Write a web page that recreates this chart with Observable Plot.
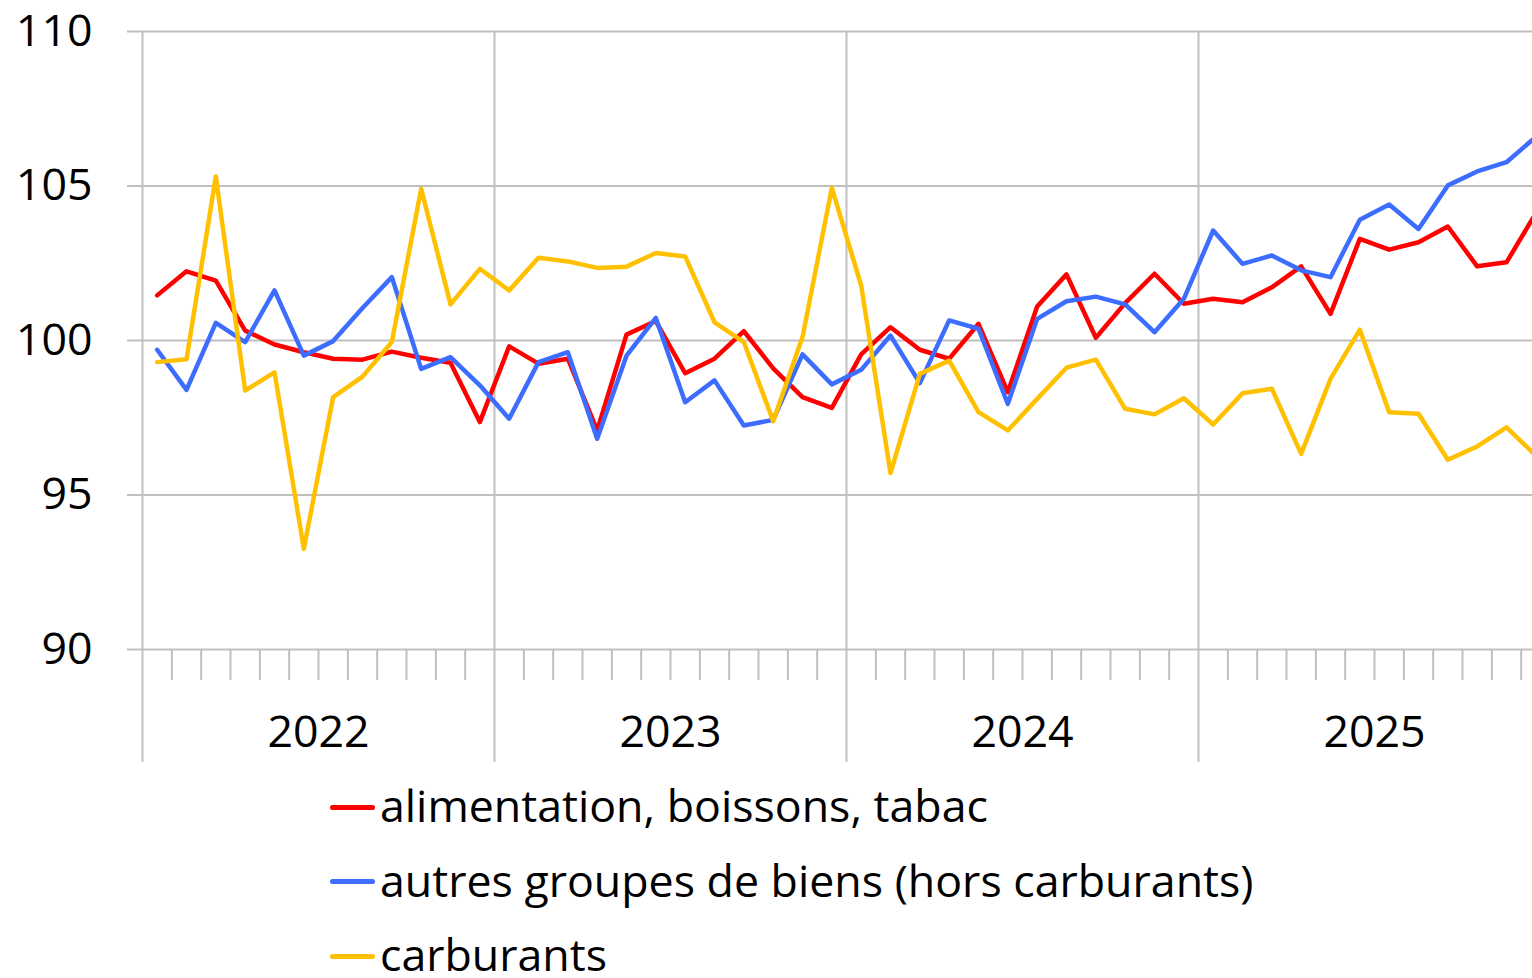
<!DOCTYPE html>
<html>
<head>
<meta charset="utf-8">
<script src="https://cdn.jsdelivr.net/npm/d3@7"></script>
<script src="https://cdn.jsdelivr.net/npm/@observablehq/plot@0.6"></script>
<style>
  html, body { margin: 0; padding: 0; background: #fff; overflow: hidden; width: 1532px; height: 978px; }
  #chart { width: 1532px; overflow: hidden; }
  #chart svg { display: block; max-width: none !important; width: 1560px !important; height: 765px !important; }
  #legend { font-family: "Open Sans", sans-serif; font-size: 44.7px; color: #000; padding-top: 3.4px; margin-left: 330px; white-space: nowrap; }
  #legend .row { height: 74.5px; line-height: 74.5px; }
  #legend .sw { display: inline-block; width: 45px; height: 5px; border-radius: 2.5px; vertical-align: 12.5px; margin-right: 5px; }
</style>
</head>
<body>
<div id="chart"></div>
<div id="legend"></div>
<script>
// Monthly index (base 100), January 2022 – December 2025
const years = ["2022", "2023", "2024", "2025"];
const seriesNames = ["alimentation, boissons, tabac", "autres groupes de biens (hors carburants)", "carburants"];
const seriesColors = ["#FF0000", "#3D6DFF", "#FFC000"];

const alimentation = [
  101.46, 102.24, 101.94, 100.32, 99.87, 99.62, 99.41, 99.38, 99.64, 99.44, 99.28, 97.36,
  99.81, 99.25, 99.41, 97.09, 100.19, 100.63, 98.94, 99.41, 100.30, 99.10, 98.17, 97.82,
  99.55, 100.43, 99.70, 99.41, 100.54, 98.33, 101.10, 102.14, 100.09, 101.21, 102.16, 101.19,
  101.35, 101.24, 101.72, 102.40, 100.86, 103.29, 102.94, 103.18, 103.69, 102.40, 102.53, 104.12
];
const autresBiens = [
  99.70, 98.40, 100.57, 99.95, 101.62, 99.51, 99.98, 101.05, 102.05, 99.08, 99.46, 98.55,
  97.47, 99.30, 99.62, 96.82, 99.51, 100.73, 98.00, 98.71, 97.25, 97.43, 99.55, 98.58,
  99.05, 100.16, 98.62, 100.65, 100.38, 97.95, 100.70, 101.27, 101.42, 101.17, 100.27, 101.35,
  103.56, 102.48, 102.75, 102.27, 102.05, 103.91, 104.40, 103.61, 105.02, 105.47, 105.77, 106.59
];
const carburants = [
  99.30, 99.39, 105.31, 98.38, 98.97, 93.26, 98.17, 98.83, 99.95, 104.91, 101.17, 102.32,
  101.62, 102.68, 102.56, 102.35, 102.39, 102.83, 102.72, 100.59, 99.95, 97.39, 100.11, 104.94,
  101.78, 95.71, 98.92, 99.35, 97.68, 97.09, 98.11, 99.12, 99.38, 97.79, 97.61, 98.13,
  97.28, 98.29, 98.44, 96.33, 98.76, 100.35, 97.68, 97.63, 96.14, 96.57, 97.19, 96.28
];
const yTicks = [90, 95, 100, 105, 110];

const nMonths = alimentation.length;
const allSeries = [alimentation, autresBiens, carburants];
const data = allSeries.flatMap((vals, s) =>
  vals.map((v, i) => ({ m: i + 0.5, value: v, series: seriesNames[s] }))
);
const yearBounds = d3.range(0, nMonths + 1, 12);
const monthBounds = d3.range(1, nMonths).filter(m => m % 12 !== 0);
const yearMids = years.map((y, k) => k * 12 + 6);
const grid = "#BFBFBF";

const chart = Plot.plot({
  width: 1560,
  height: 765,
  marginLeft: 142,
  marginRight: 10,
  marginTop: 31,
  marginBottom: 116,
  style: { fontFamily: "Open Sans, sans-serif", fontSize: "44.7px", color: "#000", background: "#fff", maxWidth: "none", overflow: "visible" },
  x: { domain: [0, nMonths], axis: null },
  y: { domain: [90, 110], axis: null },
  color: { domain: seriesNames, range: seriesColors },
  marks: [
    Plot.gridY(yTicks, { stroke: grid, strokeOpacity: 1, strokeWidth: 2 }),
    Plot.gridX(yearBounds, { stroke: grid, strokeOpacity: 1, strokeWidth: 2 }),
    Plot.axisY(yTicks, { tickSize: 15, tickPadding: 35, stroke: grid, strokeWidth: 2, fill: "#000", fontSize: 44.7, label: null }),
    Plot.axisX(yearBounds, { tickSize: 113, stroke: grid, strokeWidth: 2, tickFormat: () => "", label: null }),
    Plot.axisX(monthBounds, { tickSize: 31, stroke: grid, strokeWidth: 2, tickFormat: () => "", label: null }),
    Plot.axisX(yearMids, { tickSize: 0, tickPadding: 66, tickFormat: (d, i) => years[i], fill: "#000", fontSize: 44.7, label: null }),
    Plot.line(data, { x: "m", y: "value", z: "series", stroke: "series", strokeWidth: 4.5, strokeLinejoin: "round", strokeLinecap: "round" })
  ]
});
document.getElementById("chart").appendChild(chart);

const legend = document.getElementById("legend");
seriesNames.forEach((name, i) => {
  const row = document.createElement("div");
  row.className = "row";
  const sw = document.createElement("span");
  sw.className = "sw";
  sw.style.background = seriesColors[i];
  row.appendChild(sw);
  row.appendChild(document.createTextNode(name));
  legend.appendChild(row);
});
</script>
</body>
</html>
